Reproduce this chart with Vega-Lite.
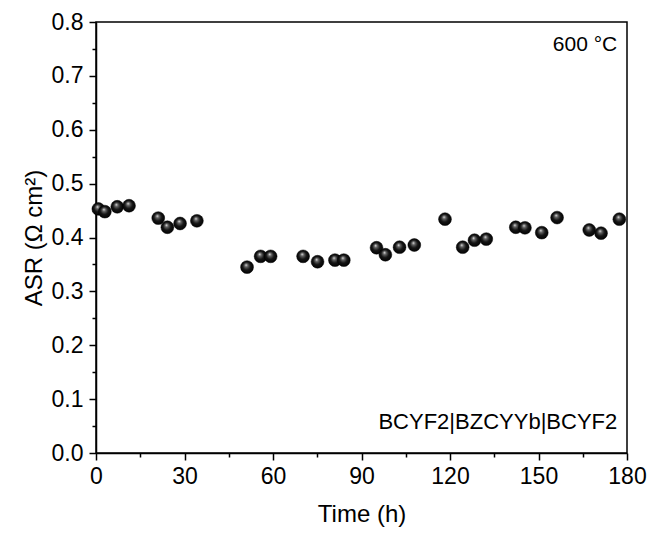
{
  "$schema": "https://vega.github.io/schema/vega-lite/v6.json",
  "width": 531,
  "height": 431,
  "autosize": {"type": "none"},
  "padding": {"left": 96, "top": 22, "right": 28, "bottom": 82},
  "background": "white",
  "config": {
    "view": {"stroke": "black", "strokeWidth": 1.5},
    "font": "Liberation Sans",
    "axis": {"grid": false, "domainColor": "black", "domainWidth": 1.5, "tickColor": "black", "tickWidth": 1.5, "labelColor": "black", "titleColor": "black", "labelFont": "Liberation Sans", "titleFont": "Liberation Sans", "labelFontSize": 23, "titleFontSize": 24, "titleFontWeight": "normal"}
  },
  "datasets": {
    "asr": [
      {"t": 0.8, "v": 0.453}, {"t": 3.0, "v": 0.448}, {"t": 7.2, "v": 0.457}, {"t": 11.2, "v": 0.459},
      {"t": 21.1, "v": 0.436}, {"t": 24.2, "v": 0.419}, {"t": 28.5, "v": 0.426}, {"t": 34.2, "v": 0.431},
      {"t": 51.2, "v": 0.345}, {"t": 55.8, "v": 0.365}, {"t": 59.2, "v": 0.365}, {"t": 70.2, "v": 0.365},
      {"t": 75.1, "v": 0.355}, {"t": 81.0, "v": 0.358}, {"t": 84.0, "v": 0.358},
      {"t": 95.1, "v": 0.381}, {"t": 98.1, "v": 0.368}, {"t": 102.9, "v": 0.382}, {"t": 107.9, "v": 0.386},
      {"t": 118.3, "v": 0.434}, {"t": 124.3, "v": 0.382}, {"t": 128.3, "v": 0.395}, {"t": 132.3, "v": 0.397},
      {"t": 142.3, "v": 0.419}, {"t": 145.4, "v": 0.418}, {"t": 151.1, "v": 0.409}, {"t": 156.3, "v": 0.437},
      {"t": 167.2, "v": 0.414}, {"t": 171.2, "v": 0.408}, {"t": 177.4, "v": 0.434}
    ],
    "notes": [
      {"t": 176.7, "v": 0.757, "label": "600 °C", "size": 21},
      {"t": 176.7, "v": 0.057, "label": "BCYF2|BZCYYb|BCYF2", "size": 22}
    ]
  },
  "layer": [
    {
      "data": {"name": "asr"},
      "mark": {"type": "point", "shape": "circle", "filled": true, "size": 165, "opacity": 1, "stroke": "#000", "strokeWidth": 0.5,
        "fill": {"gradient": "radial", "x1": 0.42, "y1": 0.32, "r1": 0, "x2": 0.5, "y2": 0.5, "r2": 0.55,
          "stops": [{"offset": 0, "color": "#f0f0f0"}, {"offset": 0.22, "color": "#666666"}, {"offset": 0.55, "color": "#151515"}, {"offset": 1, "color": "#000000"}]}},
      "encoding": {
        "x": {"field": "t", "type": "quantitative", "scale": {"domain": [0, 180], "nice": false, "zero": false},
          "axis": {"title": "Time (h)", "values": [0, 30, 60, 90, 120, 150, 180], "tickSize": 7, "labelPadding": 5, "titlePadding": 14, "labelFlush": false}},
        "y": {"field": "v", "type": "quantitative", "scale": {"domain": [0, 0.8], "nice": false},
          "axis": {"title": "ASR (Ω cm²)", "values": [0, 0.1, 0.2, 0.3, 0.4, 0.5, 0.6, 0.7, 0.8], "format": ".1f", "tickSize": 7, "labelPadding": 6, "titlePadding": 5, "labelFlush": false}}
      }
    },
    {
      "data": {"name": "notes"},
      "mark": {"type": "text", "align": "right", "baseline": "middle", "color": "black", "font": "Liberation Sans"},
      "encoding": {
        "x": {"field": "t", "type": "quantitative", "axis": {"orient": "bottom", "title": null, "labels": false, "domain": false, "values": [15, 45, 75, 105, 135, 165], "tickSize": 4}},
        "y": {"field": "v", "type": "quantitative", "axis": {"orient": "left", "title": null, "labels": false, "domain": false, "values": [0.05, 0.15, 0.25, 0.35, 0.45, 0.55, 0.65, 0.75], "tickSize": 4}},
        "text": {"field": "label"},
        "size": {"field": "size", "type": "quantitative", "scale": null}
      }
    }
  ],
  "resolve": {"axis": {"x": "independent", "y": "independent"}}
}
